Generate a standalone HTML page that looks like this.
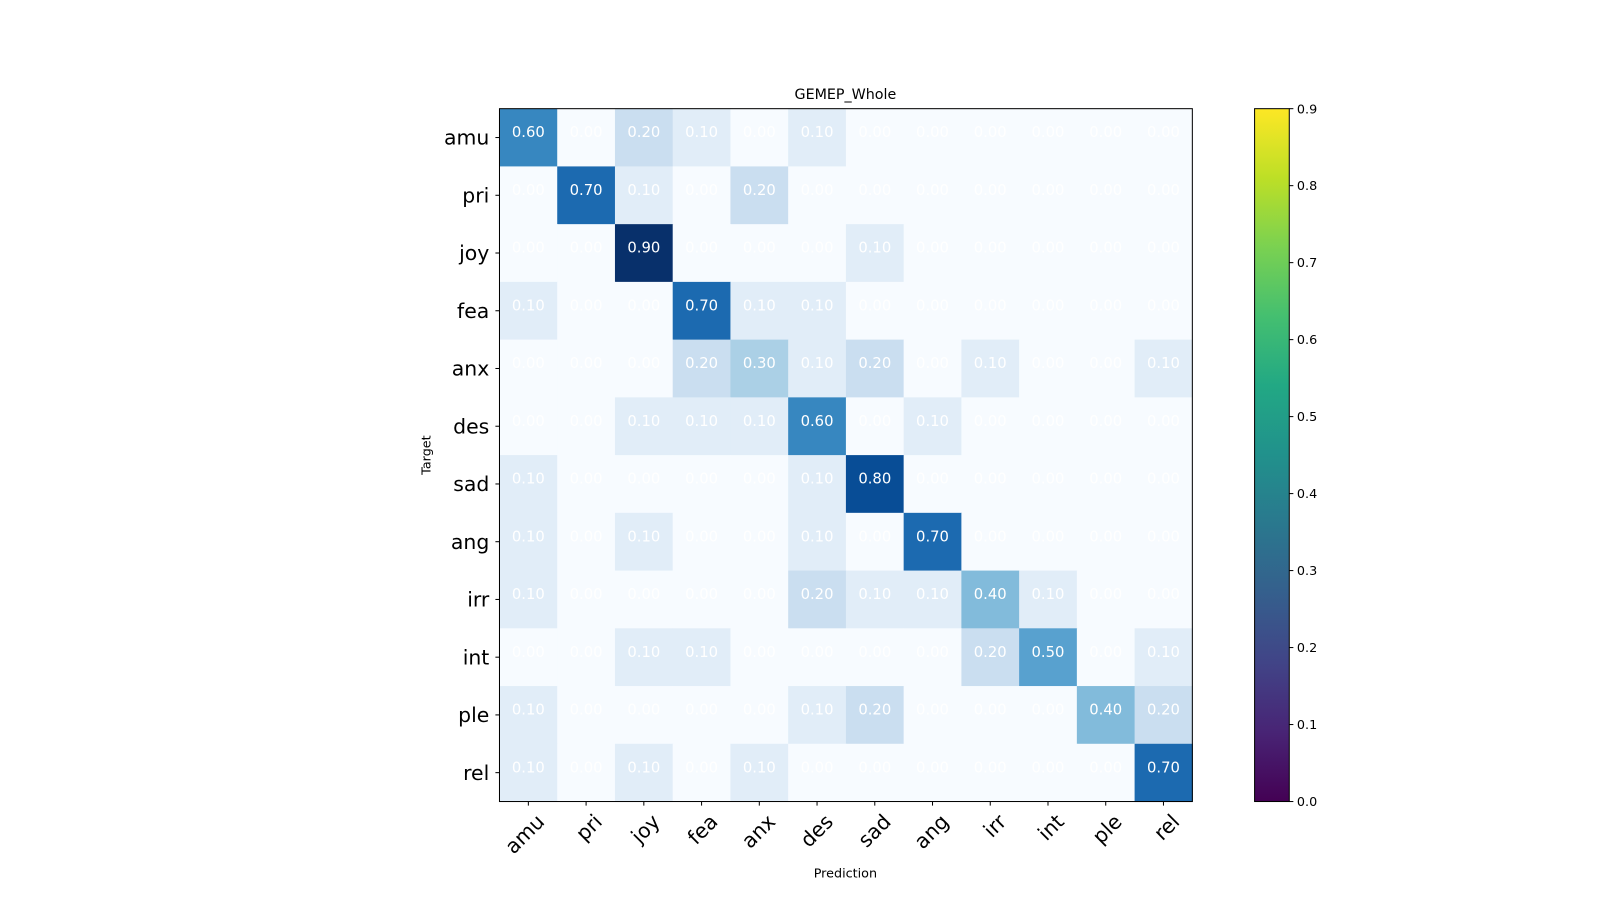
<!DOCTYPE html>
<html><head><meta charset="utf-8"><style>body{margin:0;background:#fff}svg{display:block}</style></head>
<body>
<svg id="s" width="1600" height="900" xmlns="http://www.w3.org/2000/svg" font-family="DejaVu Sans, Liberation Sans, sans-serif">
<defs><linearGradient id="vir" x1="0" y1="1" x2="0" y2="0">
<stop offset="0" stop-color="#440154"/><stop offset="0.1" stop-color="#482475"/><stop offset="0.2" stop-color="#414487"/><stop offset="0.3" stop-color="#355f8d"/><stop offset="0.4" stop-color="#2a788e"/><stop offset="0.5" stop-color="#21918c"/><stop offset="0.6" stop-color="#22a884"/><stop offset="0.7" stop-color="#44bf70"/><stop offset="0.8" stop-color="#7ad151"/><stop offset="0.9" stop-color="#bddf26"/><stop offset="1" stop-color="#fde725"/></linearGradient></defs>
<g transform="scale(1.0204)">
<g id="cells"></g>
<rect x="489.5" y="106.5" width="679" height="679" fill="none" stroke="#000" stroke-width="1"/>
<text x="828.5" y="97" font-size="14" text-anchor="middle">GEMEP_Whole</text>
<text x="828.5" y="860" font-size="12.5" text-anchor="middle">Prediction</text>
<text transform="translate(422,446) rotate(-90)" font-size="12.5" text-anchor="middle">Target</text>
<rect x="1229.5" y="106.5" width="34" height="679" fill="url(#vir)" stroke="#000"/>
<g id="cb" font-size="12.5"></g>
</g>
</svg>
<script>
const M=[[.6,0,.2,.1,0,.1,0,0,0,0,0,0],[0,.7,.1,0,.2,0,0,0,0,0,0,0],[0,0,.9,0,0,0,.1,0,0,0,0,0],[.1,0,0,.7,.1,.1,0,0,0,0,0,0],[0,0,0,.2,.3,.1,.2,0,.1,0,0,.1],[0,0,.1,.1,.1,.6,0,.1,0,0,0,0],[.1,0,0,0,0,.1,.8,0,0,0,0,0],[.1,0,.1,0,0,.1,0,.7,0,0,0,0],[.1,0,0,0,0,.2,.1,.1,.4,.1,0,0],[0,0,.1,.1,0,0,0,0,.2,.5,0,.1],[.1,0,0,0,0,.1,.2,0,0,0,.4,.2],[.1,0,.1,0,.1,0,0,0,0,0,0,.7]];
const C={0:"#f7fbff",1:"#e1edf8",2:"#cadef0",3:"#abd0e6",4:"#82bbdb",5:"#58a1cf",6:"#3787c0",7:"#1c6ab0",8:"#084d96",9:"#08306b"};
const L=["amu","pri","joy","fea","anx","des","sad","ang","irr","int","ple","rel"];
const x0=489.5,y0=106.5,w=679/12;let h="";
for(let i=0;i<12;i++){for(let j=0;j<12;j++){const v=M[i][j];h+=`<rect x="${x0+j*w}" y="${y0+i*w}" width="${w+0.5}" height="${w+0.5}" fill="${C[Math.round(v*10)]}"/>`;}}
for(let i=0;i<12;i++)for(let j=0;j<12;j++)h+=`<text x="${x0+(j+.5)*w}" y="${y0+i*w+28}" font-size="14.5" fill="#fff" text-anchor="middle">${M[i][j].toFixed(2)}</text>`;
for(let i=0;i<12;i++){const c=y0+(i+.5)*w;h+=`<line x1="${x0-4}" x2="${x0}" y1="${c}" y2="${c}" stroke="#000"/><text x="${x0-10}" y="${c+7}" font-size="20" text-anchor="end">${L[i]}</text>`;
const cx=x0+(i+.5)*w;h+=`<line x1="${cx}" x2="${cx}" y1="${y0+679}" y2="${y0+683}" stroke="#000"/><text transform="translate(${cx+17},${y0+700}) rotate(-45)" font-size="20" text-anchor="end">${L[i]}</text>`;}
document.getElementById("cells").innerHTML=h;
let g="";for(let k=0;k<=9;k++){const y=785.5-k/9*679;g+=`<line x1="1263.5" x2="1267.5" y1="${y}" y2="${y}" stroke="#000"/><text x="1271" y="${y+4.5}">${(k/10).toFixed(1)}</text>`;}
document.getElementById("cb").innerHTML=g;
</script>
</body></html>
